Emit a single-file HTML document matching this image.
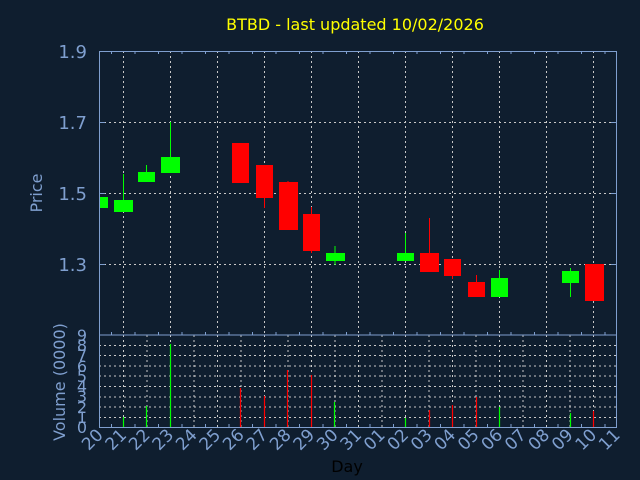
<!DOCTYPE html>
<html><head><meta charset="utf-8"><style>
html,body{margin:0;padding:0;background:#0f1e2f;}
svg{display:block;font-family:"DejaVu Sans","Liberation Sans",sans-serif;}
</style></head><body>
<svg width="640" height="480" viewBox="0 0 640 480" xmlns="http://www.w3.org/2000/svg">
<rect width="640" height="480" fill="#0f1e2f"/>
<text x="355" y="30" fill="#ffff00" font-size="16" text-anchor="middle">BTBD - last updated 10/02/2026</text>
<g stroke="#c8c8c8" stroke-width="1" stroke-dasharray="2,3" fill="none">
<path d="M123.5 51V335M170.5 51V335M217.5 51V335M264.5 51V335M311.5 51V335M358.5 51V335M405.5 51V335M452.5 51V335M499.5 51V335M546.5 51V335M593.5 51V335"/>
<path d="M99 122.5H617M99 193.5H617M99 264.5H617"/>
<path d="M123.5 335V427M147 335V427M170.5 335V427M194 335V427M217.5 335V427M241 335V427M264.5 335V427M288 335V427M311.5 335V427M335 335V427M358.5 335V427M382 335V427M405.5 335V427M429 335V427M452.5 335V427M476 335V427M499.5 335V427M523 335V427M546.5 335V427M570 335V427M593.5 335V427"/>
<path d="M99 345.5H617M99 355.5H617M99 366H617M99 376H617M99 386.5H617M99 397H617M99 407H617M99 417.5H617"/>
</g>
<g stroke="#7f9fcf" stroke-width="1" fill="none">
<rect x="99.5" y="51.5" width="517" height="283.5"/>
<rect x="99.5" y="335" width="517" height="92.5"/>
<path d="M99 122.5h6M99 193.5h6M99 264.5h6M617 122.5h-6M617 193.5h-6M617 264.5h-6"/>
<path d="M111.5 51v3M135 51v3M158.5 51v3M182 51v3M205.5 51v3M229 51v3M252.5 51v3M276 51v3M299.5 51v3M323 51v3M346.5 51v3M370 51v3M393.5 51v3M417 51v3M440.5 51v3M464 51v3M487.5 51v3M511 51v3M534.5 51v3M558 51v3M581.5 51v3M605 51v3"/>
<path d="M111.5 335v-3M135 335v-3M158.5 335v-3M182 335v-3M205.5 335v-3M229 335v-3M252.5 335v-3M276 335v-3M299.5 335v-3M323 335v-3M346.5 335v-3M370 335v-3M393.5 335v-3M417 335v-3M440.5 335v-3M464 335v-3M487.5 335v-3M511 335v-3M534.5 335v-3M558 335v-3M581.5 335v-3M605 335v-3"/>
<path d="M111.5 427v-3M135 427v-3M158.5 427v-3M182 427v-3M205.5 427v-3M229 427v-3M252.5 427v-3M276 427v-3M299.5 427v-3M323 427v-3M346.5 427v-3M370 427v-3M393.5 427v-3M417 427v-3M440.5 427v-3M464 427v-3M487.5 427v-3M511 427v-3M534.5 427v-3M558 427v-3M581.5 427v-3M605 427v-3"/>
</g>
<g stroke="#00ff00" stroke-width="1">
<path d="M123.5 174V212M146.5 165V182M170.5 122V173M335 246V265M405.5 233V261M499.5 270V297M570.5 268V297"/>
</g>
<g stroke="#ff0000" stroke-width="1">
<path d="M264.5 165V208M288 181V230M311.5 207V253M429.5 218V272M452.5 259V279M476.5 275V297"/>
</g>
<g fill="#00ff00">
<rect x="100" y="197" width="8" height="11"/>
<rect x="114" y="200" width="19" height="12"/>
<rect x="138" y="172" width="17" height="10"/>
<rect x="161" y="157" width="19" height="16"/>
<rect x="326" y="253" width="19" height="8"/>
<rect x="397" y="253" width="17" height="8"/>
<rect x="491" y="278" width="17" height="19"/>
<rect x="562" y="271" width="17" height="12"/>
</g>
<g fill="#ff0000">
<rect x="232" y="143" width="17" height="40"/>
<rect x="256" y="165" width="17" height="33"/>
<rect x="279" y="182" width="19" height="48"/>
<rect x="303" y="214" width="17" height="37"/>
<rect x="420" y="253" width="19" height="19"/>
<rect x="444" y="259" width="17" height="17"/>
<rect x="468" y="282" width="17" height="15"/>
<rect x="585" y="264" width="19" height="37"/>
</g>
<g stroke="#00ff00" stroke-width="1.2">
<path d="M123.5 417V427M146.5 406V427M170.5 344V427M334.5 402V427M405.5 418V427M499.5 407V427M570.5 413V427"/>
</g>
<g stroke="#ff0000" stroke-width="1.2">
<path d="M240.5 388V427M264.5 396V427M287.5 370V427M311.5 375V427M429.5 410V427M452.5 405V427M476.5 397V427M593.5 411V427"/>
</g>
<g fill="#7f9fcf" font-size="18" text-anchor="end">
<text x="87" y="58">1.9</text>
<text x="87" y="129">1.7</text>
<text x="87" y="200">1.5</text>
<text x="87" y="271">1.3</text>
</g>
<g fill="#7f9fcf" font-size="16" text-anchor="end">
<text x="87" y="433">0</text>
<text x="87" y="423">1</text>
<text x="87" y="413">2</text>
<text x="87" y="402">3</text>
<text x="87" y="392">4</text>
<text x="87" y="382">5</text>
<text x="87" y="372">6</text>
<text x="87" y="361">7</text>
<text x="87" y="351">8</text>
<text x="87" y="341">9</text>
</g>
<text transform="translate(42,193) rotate(-90)" fill="#7f9fcf" font-size="16" text-anchor="middle">Price</text>
<text transform="translate(65,382) rotate(-90)" fill="#7f9fcf" font-size="16" text-anchor="middle">Volume (0000)</text>
<text x="347" y="472" fill="#000" font-size="16" text-anchor="middle">Day</text>
<g fill="#7f9fcf" font-size="17" text-anchor="end">
<text transform="translate(104,436) rotate(-45)">20</text>
<text transform="translate(127.5,436) rotate(-45)">21</text>
<text transform="translate(151,436) rotate(-45)">22</text>
<text transform="translate(174.5,436) rotate(-45)">23</text>
<text transform="translate(198,436) rotate(-45)">24</text>
<text transform="translate(221.5,436) rotate(-45)">25</text>
<text transform="translate(245,436) rotate(-45)">26</text>
<text transform="translate(268.5,436) rotate(-45)">27</text>
<text transform="translate(292,436) rotate(-45)">28</text>
<text transform="translate(315.5,436) rotate(-45)">29</text>
<text transform="translate(339,436) rotate(-45)">30</text>
<text transform="translate(362.5,436) rotate(-45)">31</text>
<text transform="translate(386,436) rotate(-45)">01</text>
<text transform="translate(409.5,436) rotate(-45)">02</text>
<text transform="translate(433,436) rotate(-45)">03</text>
<text transform="translate(456.5,436) rotate(-45)">04</text>
<text transform="translate(480,436) rotate(-45)">05</text>
<text transform="translate(503.5,436) rotate(-45)">06</text>
<text transform="translate(527,436) rotate(-45)">07</text>
<text transform="translate(550.5,436) rotate(-45)">08</text>
<text transform="translate(574,436) rotate(-45)">09</text>
<text transform="translate(597.5,436) rotate(-45)">10</text>
<text transform="translate(621,436) rotate(-45)">11</text>
</g>
</svg>
</body></html>
